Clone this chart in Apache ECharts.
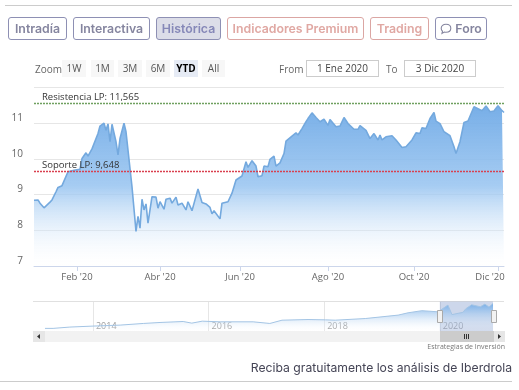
<!DOCTYPE html>
<html>
<head>
<meta charset="utf-8">
<title>Iberdrola</title>
<script src="https://cdn.jsdelivr.net/npm/echarts@6/dist/echarts.min.js"></script>
<style>
  html, body { margin: 0; padding: 0; background: #fff; overflow: hidden; }
  #page { position: relative; width: 519px; height: 390px; font-family: "Open Sans", sans-serif; }
  #chart { position: absolute; left: 0; top: 0; width: 519px; height: 390px; }
  .rule { position: absolute; height: 1px; background: #ccc; }
  .tab { position: absolute; top: 17px; height: 21px; text-align: center; border: 1px solid #8e90b4; border-radius: 3px;
         font: 600 12.3px/21px Inter, sans-serif; color: #85859f; box-sizing: content-box; }
  .tab.on { background: #dcdde8; color: #8688b8; }
  .tab.red { border-color: #dba6a3; color: #e0a8a3; }
  .tab svg { vertical-align: -2px; }
  .rs { position: absolute; top: 60px; height: 17px; line-height: 16px; text-align: center; background: #f7f7f7; font-size: 10px; color: #555; }
  .rs.on { background: #e6ebf5; color: #000; font-weight: 700; }
  .lbl { position: absolute; top: 60px; line-height: 18px; font-size: 10px; color: #666; }
  .box { position: absolute; top: 60px; height: 15px; line-height: 15px; border: 1px solid #ccc; text-align: center; font-size: 10px; color: #444; }
  #credit { position: absolute; right: 14px; top: 342px; font-size: 7px; line-height: 10px; color: #777; }
  #footer { position: absolute; right: 7px; top: 360px; font: 400 12.2px/16px Inter, sans-serif; color: #445; }
</style>
</head>
<body>
<div id="page">
  <div id="chart"></div>
  <div class="rule" style="left:5px;top:5px;width:507px"></div>
  <div class="tab" style="left:8px;width:57px">Intradía</div>
  <div class="tab" style="left:73px;width:75px">Interactiva</div>
  <div class="tab on" style="left:156px;width:63px">Histórica</div>
  <div class="tab red" style="left:227px;width:135px">Indicadores Premium</div>
  <div class="tab red" style="left:370px;width:57px">Trading</div>
  <div class="tab" style="left:435px;width:50px"><svg width="12" height="12" viewBox="0 0 12 12"><path d="M6 1.2c2.8 0 4.8 1.7 4.8 4s-2 4-4.8 4c-.6 0-1.2-.1-1.7-.2L2 10.4l.5-2.2C1.700 7.500 1.200 6.400 1.200 5.200c0-2.300 2-4 4.800-4z" fill="none" stroke="#85859f" stroke-width="1.100"/></svg> Foro</div>

  <div class="lbl" style="left:35px">Zoom</div>
  <div class="rs" style="left:62px;width:24px">1W</div>
  <div class="rs" style="left:91px;width:23px">1M</div>
  <div class="rs" style="left:118px;width:24px">3M</div>
  <div class="rs" style="left:146px;width:24px">6M</div>
  <div class="rs on" style="left:174px;width:24px">YTD</div>
  <div class="rs" style="left:202px;width:23px">All</div>
  <div class="lbl" style="left:279px">From</div>
  <div class="box" style="left:306px;width:71px">1 Ene 2020</div>
  <div class="lbl" style="left:386px">To</div>
  <div class="box" style="left:404px;width:70px">3 Dic 2020</div>

  <div id="credit">Estrategias de Inversión</div>
  <div id="footer">Reciba gratuitamente los análisis de Iberdrola</div>
  <div class="rule" style="left:0;top:381px;width:512px"></div>
</div>

<script>
// sesiones bursatiles de 2020 (eje ordinal) y cierre
const sessions = [0,2,3,5,6,8,9,11,12,14,15,17,18,20,21,23,24,26,27,29,30,32,33,35,36,37,38,39,41,42,43,45,46,48,49,50,51,52,53,54,55,56,57,59,61,62,63,65,66,68,69,71,72,74,75,76,77,79,82,84,86,88,89,90,93,94,95,97,99,101,104,106,107,109,111,112,114,115,117,118,119,120,121,123,125,126,129,131,132,134,136,137,139,141,143,145,147,148,151,153,155,157,160,162,163,166,168,170,172,173,174,176,179,181,184,186,189,191,193,194,196,198,200,201,203,205,208,210,211,213,215,217,220,221,224,226,228,230,232,234,235];
const closes = [8.84,8.85,8.76,8.63,8.66,8.79,8.85,9.08,9.20,9.25,9.27,9.64,9.64,9.68,9.70,9.71,10.01,10.17,10.08,10.28,10.25,10.71,10.92,11.0,10.80,10.98,10.48,10.97,10.48,10.11,10.57,11.0,10.76,9.73,9.22,9.27,7.97,8.39,8.06,8.87,8.57,8.74,8.2,8.94,8.93,8.62,8.8,8.59,8.87,8.9,8.76,8.93,8.71,8.76,8.8,8.57,8.80,8.55,9.16,8.78,8.74,8.64,8.46,8.55,8.32,8.76,8.76,8.8,9.04,9.41,9.52,9.92,9.76,9.95,9.8,9.5,9.53,9.8,9.78,9.99,9.97,10.08,9.8,9.89,10.15,10.5,10.64,10.73,10.67,10.85,11.04,11.13,11.29,11.16,11.04,11.11,10.94,11.1,10.9,10.92,11.16,10.99,10.83,10.83,10.93,10.8,10.57,10.71,10.53,10.67,10.53,10.62,10.65,10.53,10.32,10.34,10.53,10.73,10.71,10.87,10.85,11.13,11.3,11.06,10.99,10.76,10.65,10.34,10.15,10.48,11.02,11.06,11.46,11.46,11.35,11.48,11.32,11.34,11.49,11.35,11.3];
const tickSessions = [21.5,63,103,147,190,232];
const tickLabels = ["Feb '20","Abr '20","Jun '20","Ago '20","Oct '20","Dic '20"];
const resistance = 11.565;
const support = 9.648;

// navegador 2013-2020
const navYears = [2013.17,2013.31,2013.6,2014.0,2014.47,2014.87,2015.16,2015.56,2015.71,2015.89,2016.2,2016.77,2017.06,2017.27,2017.72,2018.02,2018.19,2018.71,2019.28,2019.45,2019.69,2019.97,2020.14,2020.21,2020.4,2020.45,2020.55,2020.7,2020.78,2020.85,2020.92];
const navValues = [3.8,3.8,4.2,4.5,4.8,5.3,5.6,5.9,5.4,6.0,5.8,5.8,5.3,6.3,6.5,6.4,6.3,6.8,7.85,8.55,9.2,8.85,10.9,8.0,8.7,9.8,11.0,10.4,11.2,10.3,11.4];
const navTicks = [2014,2016,2018,2020];
const navRange = [2020.0,2020.92];

const labelFont = '"Open Sans", sans-serif';

const myChart = echarts.init(document.getElementById('chart'), null, { renderer: 'canvas' });

const option = {
  animation: false,
  grid: [
    { left: 34, right: 15, top: 87.5, height: 178.5 },
    { left: 34, right: 15, top: 301.5, height: 29.5 }
  ],
  xAxis: [
    {
      type: 'value', gridIndex: 0, min: 0, max: 235,
      splitLine: { show: false },
      axisLine: { show: true, lineStyle: { color: '#ccd6eb' } },
      axisTick: { show: true, length: 5, lineStyle: { color: '#ccd6eb' }, customValues: tickSessions },
      axisLabel: {
        customValues: tickSessions, color: '#666', fontSize: 9.5, fontFamily: labelFont, margin: 6,
        // la ultima etiqueta se desplaza para no salir del grafico
        formatter: v => v === 232 ? '{last|' + tickLabels[5] + '}' : tickLabels[tickSessions.indexOf(v)],
        rich: { last: { color: '#666', fontSize: 9.5, fontFamily: labelFont, padding: [0, 16, 0, 0] } }
      }
    },
    {
      type: 'value', gridIndex: 1, min: 2012.98, max: 2021.11,
      splitLine: { show: true, lineStyle: { color: '#e6e6e6' } },
      axisLine: { show: false },
      axisTick: { show: false, customValues: navTicks },
      axisLabel: {
        customValues: navTicks, inside: true, align: 'left', margin: 0, padding: [0, 0, 0, 3],
        color: '#999', fontSize: 9, fontFamily: labelFont, formatter: v => String(v)
      }
    }
  ],
  yAxis: [
    {
      type: 'value', gridIndex: 0, min: 7, max: 12, interval: 1,
      axisLine: { show: false }, axisTick: { show: false },
      splitLine: { lineStyle: { color: '#e6e6e6' } },
      axisLabel: {
        showMaxLabel: false, verticalAlign: 'bottom', margin: 11,
        color: '#666', fontSize: 10, fontFamily: labelFont
      }
    },
    {
      type: 'value', gridIndex: 1, min: 3, max: 12,
      axisLine: { show: false }, axisTick: { show: false }, axisLabel: { show: false },
      splitLine: { show: false }
    }
  ],
  series: [
    {
      type: 'line', xAxisIndex: 0, yAxisIndex: 0, symbol: 'none', z: 3,
      data: sessions.map((s, i) => [s, closes[i]]),
      lineStyle: { color: '#74a9de', width: 1.6 },
      areaStyle: {
        opacity: 1,
        color: new echarts.graphic.LinearGradient(0, 0, 0, 1, [
          { offset: 0, color: 'rgba(112,170,230,0.95)' },
          { offset: 0.5, color: 'rgba(150,195,240,0.85)' },
          { offset: 1, color: 'rgba(255,255,255,0.1)' }
        ])
      },
      markLine: {
        silent: true, symbol: 'none', animation: false,
        data: [
          { yAxis: resistance, name: 'Resistencia LP: 11,565', lineStyle: { color: '#6fa05f', type: [2, 1], width: 1.4 } },
          { yAxis: support, name: 'Soporte LP: 9,648', lineStyle: { color: '#d9404f', type: [2, 1], width: 1.4 } }
        ],
        label: {
          position: 'insideStartTop', formatter: '{b}', color: '#333', fontSize: 9.5, fontFamily: labelFont,
          distance: [8, 1]
        }
      }
    },
    {
      type: 'line', xAxisIndex: 1, yAxisIndex: 1, symbol: 'none', z: 2,
      data: navYears.map((y, i) => [y, navValues[i]]),
      lineStyle: { color: '#a3c4e4', width: 1 },
      areaStyle: {
        opacity: 1,
        color: new echarts.graphic.LinearGradient(0, 0, 0, 1, [
          { offset: 0, color: 'rgba(112,170,230,0.95)' },
          { offset: 1, color: 'rgba(255,255,255,0.1)' }
        ])
      },
      markArea: {
        silent: true,
        itemStyle: { color: 'rgba(102,133,194,0.33)' },
        data: [[{ xAxis: navRange[0] }, { xAxis: navRange[1] }]]
      }
    }
  ],
  graphic: [
    // linea superior del navegador y barra de desplazamiento
    { type: 'rect', shape: { x: 33, y: 301, width: 471, height: 1 }, style: { fill: '#e0e0e0' }, z: 1 },
    { type: 'rect', shape: { x: 33, y: 331, width: 472, height: 11 }, style: { fill: '#f2f2f2' }, z: 1 },
    { type: 'rect', shape: { x: 33, y: 331, width: 12, height: 11 }, style: { fill: '#e6e6e6' }, z: 1 },
    { type: 'rect', shape: { x: 494, y: 331, width: 11, height: 11 }, style: { fill: '#e6e6e6' }, z: 1 },
    { type: 'rect', shape: { x: 440, y: 331, width: 54, height: 11 }, style: { fill: '#cccccc' }, z: 1 },
    { type: 'polygon', shape: { points: [[40, 334], [40, 339], [37, 336.500]] }, style: { fill: '#333' }, z: 2 },
    { type: 'polygon', shape: { points: [[498, 334], [498, 339], [501, 336.500]] }, style: { fill: '#333' }, z: 2 },
    { type: 'rect', shape: { x: 464, y: 334, width: 1, height: 5 }, style: { fill: '#333' }, z: 2 },
    { type: 'rect', shape: { x: 466, y: 334, width: 1, height: 5 }, style: { fill: '#333' }, z: 2 },
    { type: 'rect', shape: { x: 468, y: 334, width: 1, height: 5 }, style: { fill: '#333' }, z: 2 },
    // asas del rango
    { type: 'rect', shape: { x: 437.5, y: 310.5, width: 5, height: 12 }, style: { fill: '#f2f2f2', stroke: '#aaa' }, z: 5 },
    { type: 'rect', shape: { x: 491.5, y: 310.5, width: 5, height: 12 }, style: { fill: '#f2f2f2', stroke: '#aaa' }, z: 5 }
  ]
};

myChart.setOption(option);
</script>
</body>
</html>
